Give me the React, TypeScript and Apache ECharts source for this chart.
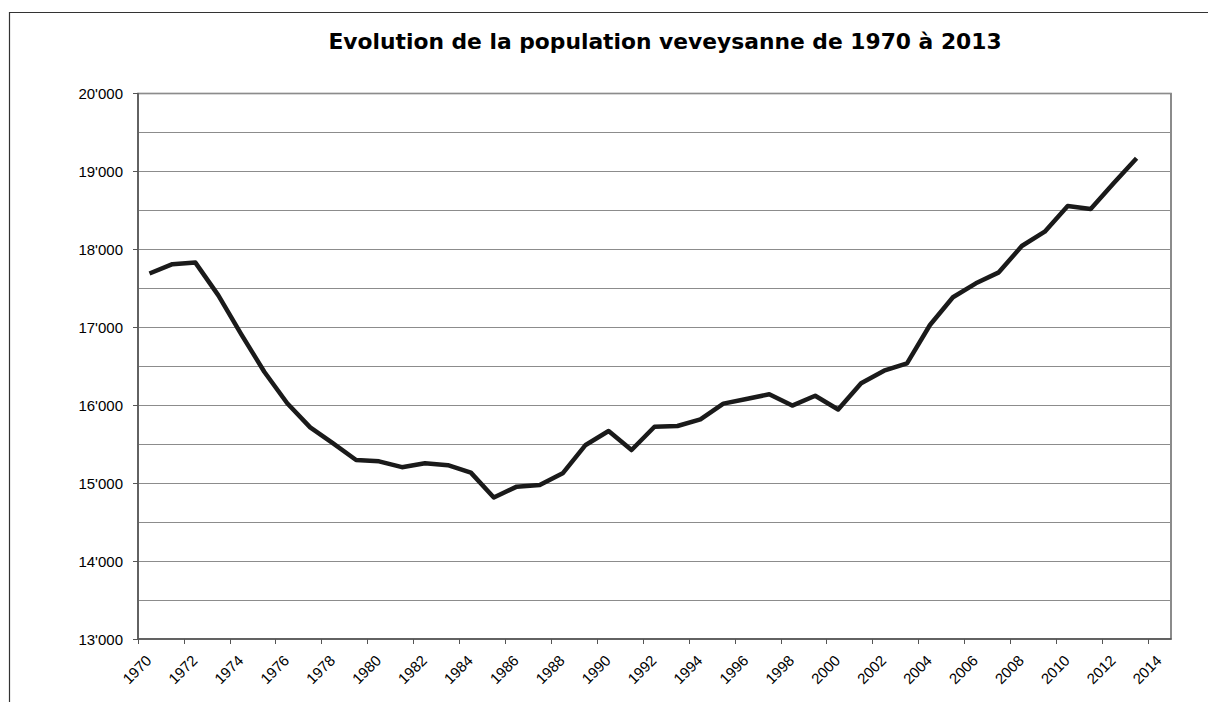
import React, { useEffect, useRef } from "react";
import * as echarts from "echarts";

const titleText = "Evolution de la population veveysanne de 1970 à 2013";

const years: number[] = [
  1970, 1971, 1972, 1973, 1974, 1975, 1976, 1977, 1978, 1979,
  1980, 1981, 1982, 1983, 1984, 1985, 1986, 1987, 1988, 1989,
  1990, 1991, 1992, 1993, 1994, 1995, 1996, 1997, 1998, 1999,
  2000, 2001, 2002, 2003, 2004, 2005, 2006, 2007, 2008, 2009,
  2010, 2011, 2012, 2013,
];

const population: number[] = [
  17690, 17810, 17830, 17410, 16910, 16430, 16025, 15715, 15510, 15297,
  15280, 15205, 15255, 15230, 15135, 14815, 14955, 14976, 15126, 15490,
  15669, 15425, 15724, 15733, 15819, 16020, 16080, 16140, 15995, 16122,
  15945, 16281, 16443, 16538, 17029, 17385, 17564, 17705, 18043, 18227,
  18556, 18518, 18848, 19168,
];

const tickYears: number[] = [
  1970, 1972, 1974, 1976, 1978, 1980, 1982, 1984, 1986, 1988, 1990, 1992,
  1994, 1996, 1998, 2000, 2002, 2004, 2006, 2008, 2010, 2012, 2014,
];

const yMin = 13000;
const yMax = 20000;
const yStep = 1000;

const fmtThousands = (v: number) =>
  String(Math.round(v)).replace(/\B(?=(\d{3})+(?!\d))/g, "'");

export default function App() {
  const ref = useRef<HTMLDivElement>(null);

  useEffect(() => {
    if (!ref.current) return;
    const chart = echarts.init(ref.current, null, { renderer: "svg" });
    const seriesData = years.map((y, i) => [y + 0.5, population[i]]);

    chart.setOption({
      animation: false,
      backgroundColor: "#ffffff",
      title: {
        text: titleText,
        left: 660,
        top: 25,
        textAlign: "center",
        textStyle: {
          fontFamily: "DejaVu Sans",
          fontWeight: "bold",
          fontSize: 21.8,
          color: "#000000",
        },
      },
      graphic: [
        {
          type: "rect",
          shape: { x: 9.5, y: 12.5, width: 1400, height: 900 },
          style: { fill: "none", stroke: "#333333", lineWidth: 1.2 },
          silent: true,
          z: 0,
        },
      ],
      grid: {
        left: 138,
        right: 37,
        top: 93.5,
        bottom: 63,
        show: true,
        borderColor: "#666666",
        borderWidth: 1.5,
        backgroundColor: "transparent",
        containLabel: false,
      },
      xAxis: {
        type: "value",
        min: 1970,
        max: 2015,
        interval: 2,
        axisLine: { show: true, lineStyle: { color: "#555555", width: 1.5 } },
        axisTick: {
          show: true,
          length: 5,
          lineStyle: { color: "#555555", width: 1 },
          customValues: tickYears,
        },
        axisLabel: {
          rotate: 45,
          margin: 8,
          verticalAlign: "top",
          lineHeight: 30,
          showMinLabel: true,
          showMaxLabel: true,
          hideOverlap: false,
          fontFamily: "Liberation Sans",
          fontSize: 15,
          color: "#000000",
          customValues: tickYears,
          formatter: (v: number) => String(v),
        },
        splitLine: { show: false },
      },
      yAxis: {
        type: "value",
        min: yMin,
        max: yMax,
        interval: yStep,
        axisLine: { show: true, lineStyle: { color: "#555555", width: 1.5 } },
        axisTick: { show: true, length: 5, lineStyle: { color: "#555555", width: 1 } },
        axisLabel: {
          margin: 15,
          fontFamily: "Liberation Sans",
          fontSize: 15,
          color: "#000000",
          formatter: (v: number) => fmtThousands(v),
        },
        splitLine: { show: true, lineStyle: { color: "#8c8c8c", width: 1 } },
        minorTick: { show: false, splitNumber: 2 },
        minorSplitLine: { show: true, lineStyle: { color: "#8c8c8c", width: 1 } },
      },
      series: [
        {
          type: "line",
          data: seriesData,
          showSymbol: false,
          symbol: "none",
          lineStyle: { color: "#1a1a1a", width: 4.5, join: "round" },
          z: 5,
        },
      ],
    });

    return () => chart.dispose();
  }, []);

  return (
    <div
      ref={ref}
      style={{ position: "fixed", left: 0, top: 0, width: 1208, height: 702 }}
    />
  );
}
